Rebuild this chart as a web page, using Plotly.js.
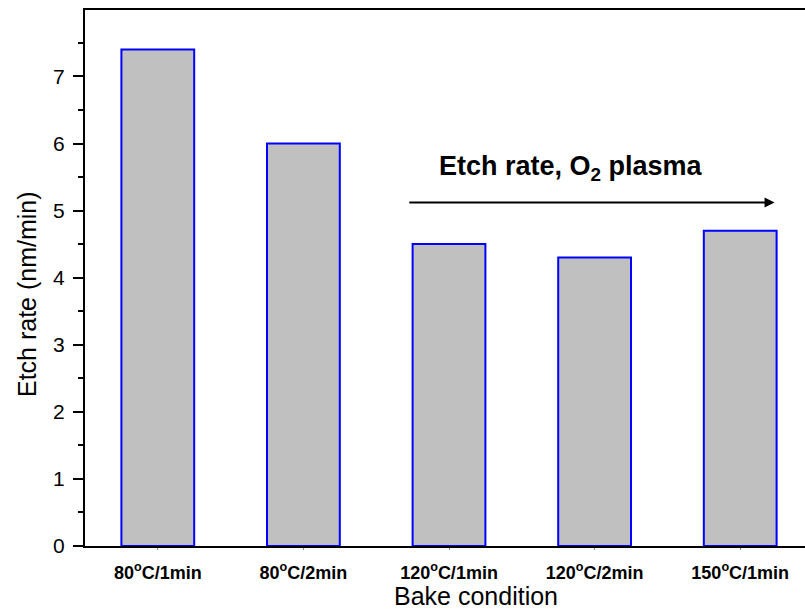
<!DOCTYPE html>
<html><head><meta charset="utf-8">
<script src="https://cdn.plot.ly/plotly-3.0.1.min.js"></script>
<style>html,body{margin:0;padding:0;overflow:hidden;background:#fff}</style>
</head><body><div id="chart" style="width:805px;height:611px"></div>
<script>
const categories = ["80<sup>o</sup>C/1min","80<sup>o</sup>C/2min","120<sup>o</sup>C/1min","120<sup>o</sup>C/2min","150<sup>o</sup>C/1min"];
const etchRate = [7.4, 6.0, 4.5, 4.3, 4.7];
const yTicks = [0,1,2,3,4,5,6,7];
const xTitle = "Bake condition";
const yTitle = "Etch rate (nm/min)";

const F = "Arial, 'Liberation Sans', sans-serif";
const trace = {
  type: "bar",
  x: categories,
  y: etchRate,
  width: 0.5,
  marker: {color: "#c0c0c0", line: {color: "#0000ff", width: 2}},
  hoverinfo: "none"
};
const layout = {
  width: 805, height: 611,
  margin: {l: 85, r: 0, t: 10, b: 65},
  paper_bgcolor: "#fff", plot_bgcolor: "#fff",
  showlegend: false,
  font: {family: F, color: "#000"},
  xaxis: {
    type: "category",
    range: [-0.5, 4.445],
    showline: true, linecolor: "#000", linewidth: 2, mirror: true,
    ticks: "outside", ticklen: 2, tickcolor: "#888",
    ticklabelstandoff: 7,
    tickfont: {family: F, size: 18, color: "#000", weight: "bold"},
    showgrid: false, zeroline: false
  },
  yaxis: {
    range: [0, 7.99],
    tickmode: "array", tickvals: yTicks, ticktext: yTicks.map(String),
    showline: true, linecolor: "#000", linewidth: 2,
    ticks: "outside", ticklen: 10, tickwidth: 2, tickcolor: "#000",
    ticklabelstandoff: 4,
    minor: {tickmode: "linear", tick0: 0, dtick: 0.5, ticks: "outside", ticklen: 5, tickwidth: 2, tickcolor: "#000"},
    tickfont: {family: F, size: 21, color: "#000"},
    showgrid: false, zeroline: false
  },
  annotations: [
    {x: 0.543, y: -0.0925, xref: "paper", yref: "paper", text: xTitle, showarrow: false,
     xanchor: "center", yanchor: "middle", font: {family: F, size: 25, color: "#000"}},
    {x: -0.0806, y: 0.470, xref: "paper", yref: "paper", text: yTitle, showarrow: false, textangle: -90,
     xanchor: "center", yanchor: "middle", font: {family: F, size: 25, color: "#000"}},
    {x: 2.836, y: 5.64, xref: "x", yref: "y", text: "<b>Etch rate, O<sub>2</sub> plasma</b>",
     showarrow: false, font: {family: F, size: 27, color: "#000"}},
    {x: 4.236, y: 5.12, ax: 1.717, ay: 5.12, xref: "x", yref: "y", axref: "x", ayref: "y",
     text: "", showarrow: true, arrowhead: 2, arrowsize: 1, arrowwidth: 2, arrowcolor: "#000"}
  ]
};
Plotly.newPlot("chart", [trace], layout, {displayModeBar: false, staticPlot: true});
</script></body></html>
